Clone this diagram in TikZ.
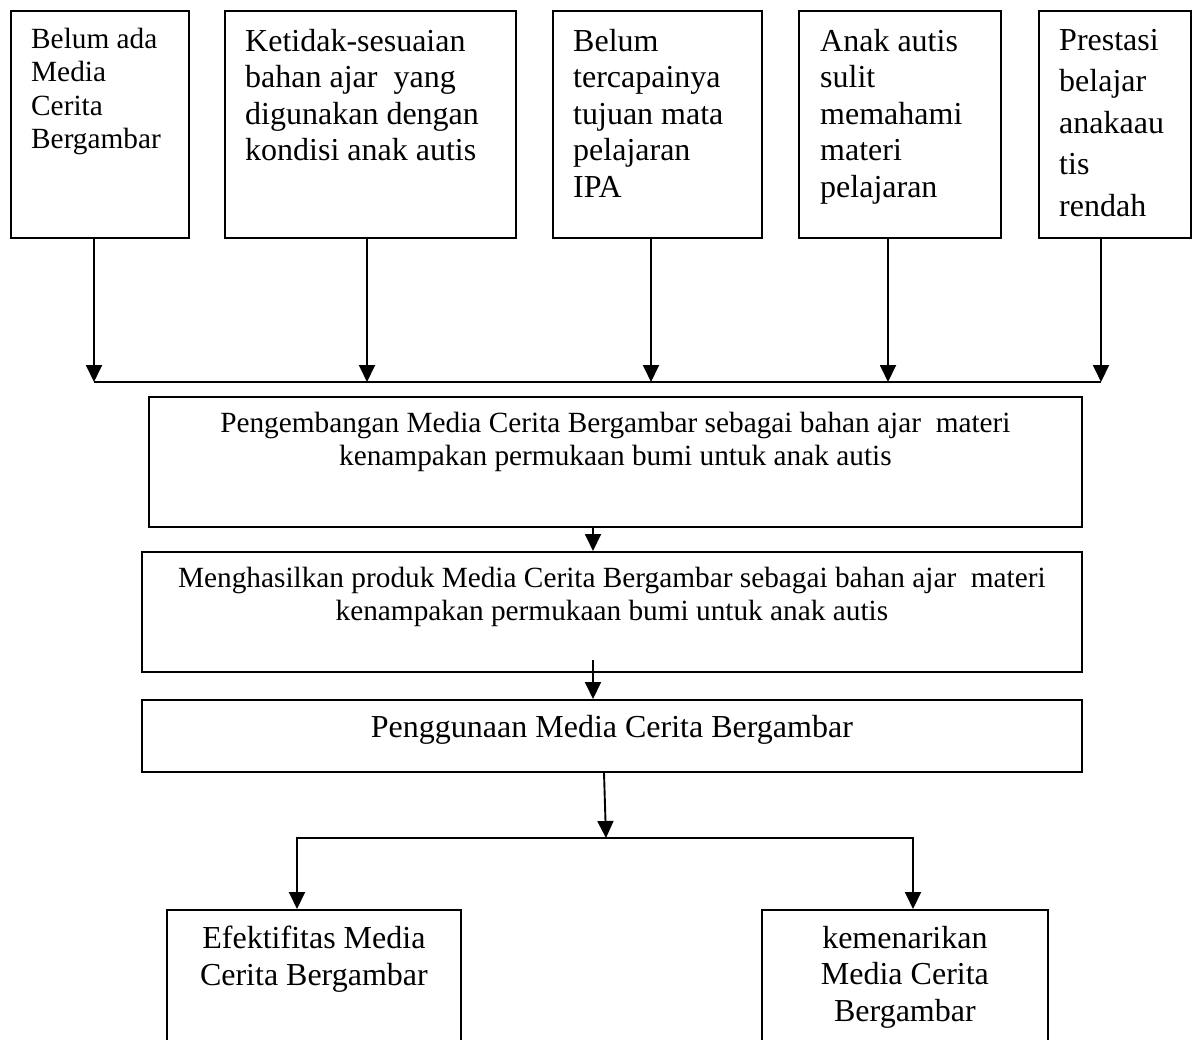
\documentclass[tikz,border=0pt]{standalone}
\usepackage{fontspec}
\setmainfont{Liberation Serif}
\usetikzlibrary{arrows.meta,positioning}
\tikzset{
  flowbox/.style={draw=black,line width=1.8pt,anchor=north west,inner sep=0pt},
  lefttext/.style={inner sep=0pt,align=left},
  midtext/.style={inner sep=0pt,align=center},
  smallfont/.style={font=\fontsize{29.3}{33.3}\selectfont},
  bigfont/.style={font=\fontsize{32}{36.5}\selectfont},
  arr/.style={-{Triangle[length=17pt,width=16pt]},line width=1.9pt},
  arrboth/.style={{Triangle[length=17pt,width=16pt]}-{Triangle[length=17pt,width=16pt]},line width=1.9pt}
}

\begin{document}
\begin{tikzpicture}[x=1pt,y=-1pt]
  \useasboundingbox (0,0) rectangle (1198,1040);

  % top row: the problems
  \node[flowbox,minimum width=178pt,minimum height=227pt] (c1) at (10,10) {};
  \node[flowbox,minimum width=291pt,minimum height=227pt] (c2) at (224,10) {};
  \node[flowbox,minimum width=209pt,minimum height=227pt] (c3) at (552,10) {};
  \node[flowbox,minimum width=202pt,minimum height=227pt] (c4) at (798,10) {};
  \node[flowbox,minimum width=152pt,minimum height=227pt] (c5) at (1038,10) {};

  \node[lefttext,smallfont,below right=18pt and 21pt of c1.north west] (t1)
    {Belum ada\\Media\\Cerita\\Bergambar};
  \node[lefttext,bigfont,below right=19pt and 21pt of c2.north west] (t2)
    {Ketidak-sesuaian\\bahan ajar\ \ yang\\digunakan dengan\\kondisi anak autis};
  \node[lefttext,bigfont,below right=19pt and 21pt of c3.north west] (t3)
    {Belum\\tercapainya\\tujuan mata\\pelajaran\\IPA};
  \node[lefttext,bigfont,below right=19pt and 22pt of c4.north west] (t4)
    {Anak autis\\sulit\\memahami\\materi\\pelajaran};
  \node[lefttext,font=\fontsize{32}{41.5}\selectfont,below right=19pt and 21pt of c5.north west] (t5)
    {Prestasi\\belajar\\anakaau\\tis\\rendah};

  % arrows into the bus line
  \foreach \i/\x in {1/94,2/367,3/651,4/888,5/1101}{
    \coordinate (j\i) at (\x,382);
    \draw[arr] (c\i.south -| j\i) -- (j\i);
  }
  \draw[line width=1.8pt] (j1) -- (j5);

  % middle column
  \node[flowbox,minimum width=933pt,minimum height=130pt] (m1) at (148,396) {};
  \node[flowbox,minimum width=940pt,minimum height=120pt] (m2) at (141,551) {};
  \node[flowbox,minimum width=940pt,minimum height=72pt] (m3) at (141,699) {};

  \node[midtext,smallfont,below=16pt of m1.north] (tm1)
    {Pengembangan Media Cerita Bergambar sebagai bahan ajar\ \ materi\\kenampakan permukaan bumi untuk anak autis};
  \node[midtext,smallfont,below=16pt of m2.north] (tm2)
    {Menghasilkan produk Media Cerita Bergambar sebagai bahan ajar\ \ materi\\kenampakan permukaan bumi untuk anak autis};
  \node[midtext,bigfont,below=16pt of m3.north] (tm3)
    {Penggunaan Media Cerita Bergambar};

  \coordinate (k1) at (593,0);
  \coordinate (k2) at (593,660);
  \draw[arr] (m1.south -| k1) -- (m2.north -| k1);
  \draw[arr] (k2) -- (m3.north -| k2);

  % bottom row: the outcomes
  \node[flowbox,minimum width=294pt,minimum height=161pt] (e1) at (166,909) {};
  \node[flowbox,minimum width=286pt,minimum height=161pt] (e2) at (761,909) {};

  \node[midtext,bigfont,below=17pt of e1.north] (te1)
    {Efektifitas Media\\Cerita Bergambar};
  \node[midtext,bigfont,below=17pt of e2.north] (te2)
    {kemenarikan\\Media Cerita\\Bergambar};

  \coordinate (d1) at (604,0);
  \coordinate (b0) at (606,838);
  \coordinate (bl) at (297,838);
  \coordinate (br) at (913,838);
  \draw[arr] (m3.south -| d1) -- (b0);
  \draw[arrboth] (e1.north -| bl) -- (bl) -- (br) -- (e2.north -| br);
\end{tikzpicture}
\end{document}
